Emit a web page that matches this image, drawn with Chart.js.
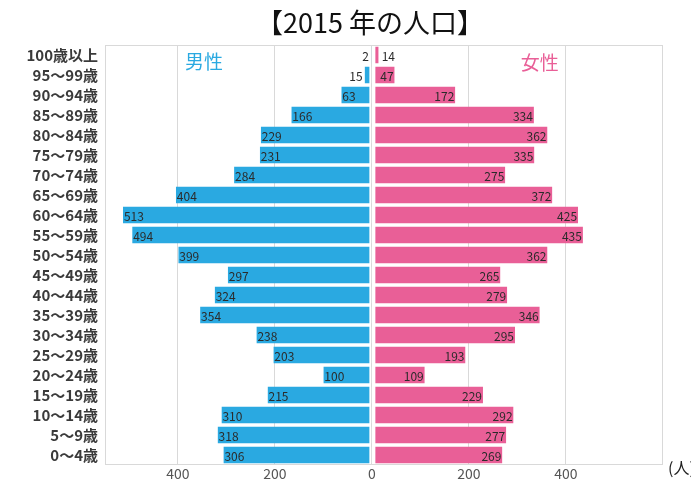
<!DOCTYPE html>
<html>
<head>
<meta charset="utf-8">
<script src="https://cdn.jsdelivr.net/npm/chart.js@4.4.1/dist/chart.umd.min.js"></script>
<style>
html,body{margin:0;padding:0;background:#fff;}
#wrap{position:relative;width:691px;height:483px;}
</style>
</head>
<body>
<div id="wrap"><canvas id="c" width="691" height="483"></canvas></div>
<script>
const titleText = '【2015 年の人口】';
const categories = ['100歳以上','95～99歳','90～94歳','85～89歳','80～84歳','75～79歳','70～74歳','65～69歳','60～64歳','55～59歳','50～54歳','45～49歳','40～44歳','35～39歳','30～34歳','25～29歳','20～24歳','15～19歳','10～14歳','5～9歳','0～4歳'];
const maleValues = [2,15,63,166,229,231,284,404,513,494,399,297,324,354,238,203,100,215,310,318,306];
const femaleValues = [14,47,172,334,362,335,275,372,425,435,362,265,279,346,295,193,109,229,292,277,269];
const xTickValues = [-400,-200,0,200,400];
const maleLabel = '男性';
const femaleLabel = '女性';
const unitLabel = '(人)';

const FONT = "'Noto Sans CJK JP', 'Noto Sans', sans-serif";
Chart.defaults.font.family = FONT;

const BLUE = '#2aa9e1';
const PINK = '#e95f97';

const decorPlugin = {
  id: 'decor',
  beforeDraw(chart) {
    const ctx = chart.ctx;
    ctx.save();
    ctx.fillStyle = '#fff';
    ctx.fillRect(0, 0, chart.width, chart.height);
    ctx.restore();
  },
  afterDatasetsDraw(chart) {
    const ctx = chart.ctx;
    const ca = chart.chartArea;
    ctx.save();
    ctx.strokeStyle = '#d9d9d9';
    ctx.lineWidth = 1;
    ctx.strokeRect(Math.round(ca.left) + 0.5, Math.round(ca.top) + 0.5, Math.round(ca.right - ca.left) - 1, Math.round(ca.bottom - ca.top) - 1);

    ctx.font = '12px ' + FONT;
    ctx.fillStyle = '#2b2b2b';
    ctx.textBaseline = 'middle';
    chart.data.datasets.forEach((ds, di) => {
      const meta = chart.getDatasetMeta(di);
      meta.data.forEach((bar, i) => {
        const txt = String(Math.abs(ds.data[i]));
        const w = ctx.measureText(txt).width;
        const len = Math.abs(bar.x - bar.base);
        if (di === 0) {
          if (len >= w + 5) { ctx.textAlign = 'left'; ctx.fillText(txt, bar.x + 1, bar.y + 1); }
          else { ctx.textAlign = 'right'; ctx.fillText(txt, bar.x - 2, bar.y + 1); }
        } else {
          if (len >= w + 5) { ctx.textAlign = 'right'; ctx.fillText(txt, bar.x - 1, bar.y + 1); }
          else { ctx.textAlign = 'left'; ctx.fillText(txt, bar.x + 3, bar.y + 1); }
        }
      });
    });

    const xs = chart.scales.x;
    ctx.font = '19px ' + FONT;
    ctx.textAlign = 'left';
    ctx.fillStyle = BLUE;
    ctx.fillText(maleLabel, xs.getPixelForValue(-385), ca.top + 17);
    ctx.fillStyle = PINK;
    ctx.textAlign = 'right';
    ctx.fillText(femaleLabel, xs.getPixelForValue(385), ca.top + 18);

    ctx.fillStyle = '#111';
    ctx.textAlign = 'center';
    ctx.font = '27px ' + FONT;
    ctx.fillText(titleText, 370, 23);

    ctx.fillStyle = '#222';
    ctx.textAlign = 'left';
    ctx.font = '16px ' + FONT;
    ctx.fillText(unitLabel, 668, 468);
    ctx.restore();
  }
};

new Chart(document.getElementById('c'), {
  type: 'bar',
  data: {
    labels: categories,
    datasets: [
      {
        label: maleLabel,
        data: maleValues.map(v => -v),
        backgroundColor: BLUE,
        borderColor: '#fff',
        borderWidth: {left: 0, right: 2, top: 0, bottom: 0},
        borderSkipped: false,
        barPercentage: 0.84,
        categoryPercentage: 1.0
      },
      {
        label: femaleLabel,
        data: femaleValues,
        backgroundColor: PINK,
        borderColor: '#fff',
        borderWidth: {left: 3, right: 0, top: 0, bottom: 0},
        borderSkipped: false,
        barPercentage: 0.84,
        categoryPercentage: 1.0
      }
    ]
  },
  options: {
    indexAxis: 'y',
    responsive: false,
    animation: false,
    layout: {padding: {top: 45, left: 0, right: 28, bottom: 0}},
    plugins: {legend: {display: false}, title: {display: false}, tooltip: {enabled: false}},
    scales: {
      x: {
        stacked: true,
        min: -550,
        max: 600,
        afterBuildTicks(scale) { scale.ticks = xTickValues.map(v => ({value: v})); },
        afterFit(scale) { scale.height = 18; },
        grid: {color: '#d9d9d9', drawTicks: false, lineWidth: 1},
        border: {display: false},
        ticks: {
          padding: 0,
          color: '#555',
          font: {size: 14},
          maxRotation: 0,
          callback: (v) => String(Math.abs(v))
        }
      },
      y: {
        stacked: true,
        afterFit(scale) { scale.width = 105; },
        grid: {display: false, drawTicks: false},
        border: {display: false},
        ticks: {
          padding: 7,
          color: '#3a3a3a',
          font: {size: 15, weight: 'bold'},
          autoSkip: false
        }
      }
    }
  },
  plugins: [decorPlugin]
});
</script>
</body>
</html>
